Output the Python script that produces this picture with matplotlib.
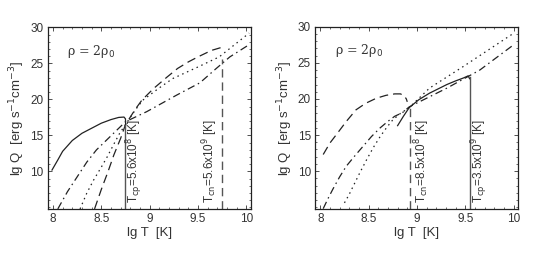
import matplotlib
matplotlib.use("Agg")
import matplotlib.pyplot as plt
from matplotlib.ticker import MultipleLocator

plt.rcParams['font.family'] = ['Liberation Sans', 'DejaVu Sans']

# ---------------- Left panel data ----------------
L_solid_x = [7.99, 8.05, 8.10, 8.20, 8.30, 8.40, 8.50, 8.60, 8.68, 8.735, 8.75, 8.752]
L_solid_y = [10.2, 11.6, 12.8, 14.3, 15.3, 16.0, 16.7, 17.2, 17.5, 17.55, 17.3, 16.4]
L_dash_x = [8.43, 8.50, 8.57, 8.63, 8.70, 8.75, 8.85, 8.92, 9.04, 9.18, 9.29, 9.40, 9.50, 9.64, 9.74]
L_dash_y = [4.8, 7.5, 10.0, 12.3, 14.6, 16.5, 18.6, 19.9, 21.5, 23.1, 24.3, 25.2, 25.9, 26.8, 27.2]
L_dot_x = [8.28, 8.35, 8.42, 8.50, 8.56, 8.63, 8.69, 8.75, 8.85, 8.93, 9.10, 9.24, 9.50, 9.72, 10.03]
L_dot_y = [4.8, 7.0, 8.8, 10.6, 12.0, 13.8, 15.3, 16.5, 18.5, 19.9, 21.6, 22.9, 24.5, 25.9, 29.2]
L_dd_x = [8.05, 8.15, 8.25, 8.35, 8.45, 8.55, 8.65, 8.75, 8.97, 9.28, 9.52, 9.69, 9.83, 10.03]
L_dd_y = [4.8, 7.2, 9.25, 11.3, 13.0, 14.3, 15.6, 16.9, 18.3, 20.6, 22.3, 24.3, 25.9, 27.6]
L_Tcp = 8.748
L_Tcp_top = 16.4
L_Tcn = 9.748
L_Tcn_top = 25.6

# ---------------- Right panel data ----------------
R_solid_x = [8.80, 8.86, 8.92, 9.02, 9.13, 9.22, 9.31, 9.40, 9.48, 9.53, 9.545]
R_solid_y = [16.3, 17.6, 18.8, 19.9, 20.8, 21.4, 22.0, 22.5, 22.9, 23.2, 22.8]
R_dash_x = [8.03, 8.10, 8.18, 8.27, 8.37, 8.47, 8.58, 8.68, 8.77, 8.83, 8.87, 8.89, 8.90]
R_dash_y = [12.3, 13.9, 15.3, 16.9, 18.5, 19.4, 20.1, 20.5, 20.7, 20.7, 20.4, 20.0, 19.6]
R_dot_x = [8.25, 8.30, 8.34, 8.41, 8.48, 8.55, 8.62, 8.69, 8.75, 8.83, 8.92, 9.13, 9.48, 10.0]
R_dot_y = [5.6, 6.8, 7.9, 9.8, 11.6, 13.3, 14.8, 16.1, 17.1, 18.0, 18.8, 21.5, 24.5, 29.1]
R_dd_x = [8.03, 8.08, 8.13, 8.20, 8.27, 8.35, 8.44, 8.53, 8.62, 8.70, 8.77, 8.85, 8.92, 9.31, 9.65, 10.0]
R_dd_y = [4.8, 6.2, 7.5, 9.2, 10.7, 12.0, 13.4, 14.8, 16.0, 16.9, 17.6, 18.1, 18.9, 21.5, 24.0, 27.5]
R_Tcn = 8.929
R_Tcn_top = 18.8
R_Tcp = 9.544
R_Tcp_top = 23.1

xticks = [8, 8.5, 9, 9.5, 10]
xticklabels = ['8', '8.5', '9', '9.5', '10']
yticks = [10, 15, 20, 25, 30]

fig = plt.figure(figsize=(5.53, 2.57), dpi=100)
axL = fig.add_axes([0.0862, 0.1856, 0.367, 0.708])
axR = fig.add_axes([0.5696, 0.1868, 0.367, 0.709])

lc = '#222222'
lw = 0.9
dash = (0, (7, 4))
dashdot = (0, (6, 3, 1.2, 3))
dot = (0, (1.2, 3))


def style(ax):
    ax.set_xlim(7.945, 10.045)
    ax.set_ylim(4.75, 30)
    ax.set_xticks(xticks)
    ax.set_xticklabels(xticklabels)
    ax.set_yticks(yticks)
    ax.xaxis.set_minor_locator(MultipleLocator(0.1))
    ax.yaxis.set_minor_locator(MultipleLocator(1))
    ax.tick_params(which='both', direction='in', top=True, right=True,
                   labelsize=8.5, colors='#333333', pad=3)
    ax.tick_params(which='major', length=3, width=0.6)
    ax.tick_params(which='minor', length=1.5, width=0.5)
    for s in ax.spines.values():
        s.set_linewidth(0.9)
        s.set_color('#222222')
    ax.set_xlabel('lg T  [K]', fontsize=9.5, color='#333333', labelpad=1)
    ax.set_ylabel('lg Q  [erg s$^{-1}$cm$^{-3}$]', fontsize=9.5, color='#333333', labelpad=2)
    ax.text(8.15, 26.7, 'ρ = 2ρ$_{\\rm 0}$', fontsize=9, color='#333333',
            va='center', ha='left', family=['DejaVu Serif'])


# Left
axL.plot(L_solid_x, L_solid_y, color=lc, lw=lw, ls='-')
axL.plot(L_dash_x, L_dash_y, color=lc, lw=lw, ls=dash)
axL.plot(L_dot_x, L_dot_y, color=lc, lw=lw, ls=dot)
axL.plot(L_dd_x, L_dd_y, color=lc, lw=lw, ls=dashdot)
axL.plot([L_Tcp, L_Tcp], [4.75, L_Tcp_top], color='#555555', lw=1.0)
axL.plot([L_Tcn, L_Tcn], [4.75, L_Tcn_top], color='#555555', lw=1.0, ls=(0, (6, 3.5)))
axL.text(8.85, 5.6, 'T$_{\\rm cp}$=5.6x10$^8$ [K]', rotation=90, fontsize=8.5,
         color='#333333', ha='center', va='bottom')
axL.text(9.63, 5.6, 'T$_{\\rm cn}$=5.6x10$^9$ [K]', rotation=90, fontsize=8.5,
         color='#333333', ha='center', va='bottom')
style(axL)

# Right
axR.plot(R_solid_x, R_solid_y, color=lc, lw=lw, ls='-')
axR.plot(R_dash_x, R_dash_y, color=lc, lw=lw, ls=dash)
axR.plot(R_dot_x, R_dot_y, color=lc, lw=lw, ls=dot)
axR.plot(R_dd_x, R_dd_y, color=lc, lw=lw, ls=dashdot)
axR.plot([R_Tcn, R_Tcn], [4.75, R_Tcn_top], color='#555555', lw=1.0, ls=(0, (6, 3.5)))
axR.plot([R_Tcp, R_Tcp], [4.75, R_Tcp_top], color='#555555', lw=1.0)
axR.text(9.05, 5.6, 'T$_{\\rm cn}$=8.5x10$^8$ [K]', rotation=90, fontsize=8.5,
         color='#333333', ha='center', va='bottom')
axR.text(9.65, 5.6, 'T$_{\\rm cp}$=3.5x10$^9$ [K]', rotation=90, fontsize=8.5,
         color='#333333', ha='center', va='bottom')
style(axR)

fig.savefig('out.png', dpi=100)
